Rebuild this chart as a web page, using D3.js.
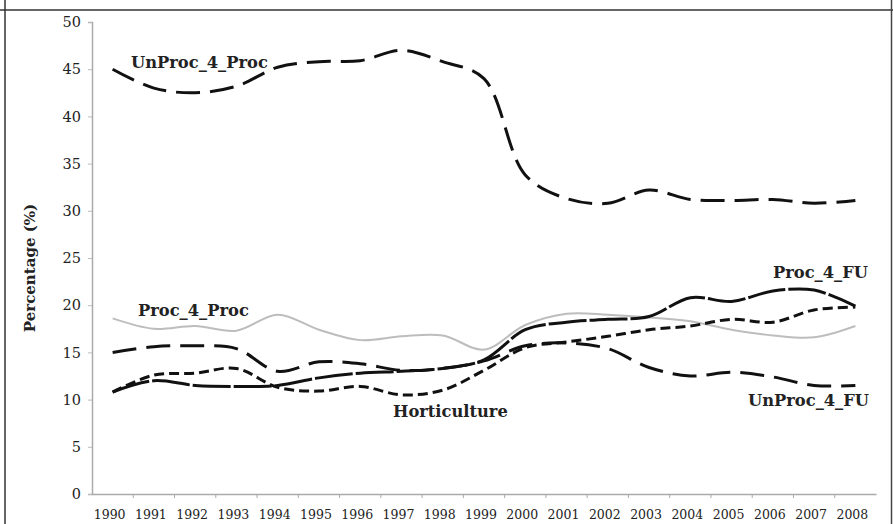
<!DOCTYPE html>
<html>
<head>
<meta charset="utf-8">
<script src="https://cdn.jsdelivr.net/npm/d3@7"></script>
<style>
  body { margin: 0; background: #fff; }
  svg { display: block; }
  .tick text { font-family: "DejaVu Serif", serif; fill: #222; }
  .lbl { font-family: "DejaVu Serif", serif; font-weight: bold; font-size: 16.3px; fill: #222; }
</style>
</head>
<body>
<svg id="chart" width="893" height="524"></svg>
<script>
// values (percent)
const years = ["1990","1991","1992","1993","1994","1995","1996","1997","1998","1999",
               "2000","2001","2002","2003","2004","2005","2006","2007","2008"]
const unproc4proc = [45.0,43.0,42.5,43.2,45.2,45.8,45.9,47.0,45.8,44.0,33.8,31.3,30.8,32.2,31.2,31.1,31.2,30.8,31.1]
const proc4fu     = [10.8,12.0,11.5,11.4,11.5,12.3,12.8,13.0,13.3,14.2,17.4,18.2,18.5,18.8,20.8,20.4,21.5,21.6,19.9]
const horticulture= [10.8,12.6,12.8,13.3,11.3,10.9,11.4,10.5,11.0,13.1,15.5,16.1,16.7,17.4,17.8,18.5,18.2,19.5,19.8]
const proc4proc   = [18.6,17.5,17.8,17.3,19.0,17.4,16.3,16.7,16.8,15.3,17.9,19.1,19.0,18.7,18.3,17.4,16.8,16.6,17.8]
const unproc4fu   = [15.0,15.6,15.7,15.4,13.0,14.0,13.8,13.1,13.3,14.1,15.7,16.0,15.4,13.4,12.5,12.9,12.4,11.5,11.5]
const yTicks = [0,5,10,15,20,25,30,35,40,45,50]

let svg = d3.select("#chart")

// frame
svg.append("line").attr("x1",0).attr("x2",893).attr("y1",10).attr("y2",10)
  .attr("stroke","#666").attr("stroke-width",2.2)
svg.append("line").attr("x1",5).attr("x2",5).attr("y1",0).attr("y2",524)
  .attr("stroke","#333").attr("stroke-width",1.5)
svg.append("line").attr("x1",891.5).attr("x2",891.5).attr("y1",0).attr("y2",524)
  .attr("stroke","#444").attr("stroke-width",1.5)

let xScale = d3.scaleBand().domain(years).range([92,876]).padding(0)
let yScale = d3.scaleLinear().domain([0,50]).range([494,22])
let xc = d => xScale(d) + xScale.bandwidth()/2

// y axis
let yAxis = svg.append("g").attr("transform","translate(92,0)")
  .call(d3.axisLeft(yScale).tickValues(yTicks).tickSize(4).tickPadding(7))
yAxis.select(".domain").attr("stroke","#aaa").attr("stroke-width",1.5)
yAxis.selectAll(".tick line").attr("stroke","#bbb")
yAxis.selectAll(".tick text").attr("font-size",14.5)

// x axis: labels at centres, tick marks between categories
let xAxis = svg.append("g").attr("transform","translate(0,494)")
  .call(d3.axisBottom(xScale).tickSize(0).tickPadding(16))
xAxis.select(".domain").attr("stroke","#aaa").attr("stroke-width",1.5)
xAxis.selectAll(".tick text").attr("font-size",12.5).attr("dx",-3)
xAxis.selectAll(".sep").data(years.slice(1)).enter().append("line")
  .attr("class","sep")
  .attr("x1",d=>xScale(d)).attr("x2",d=>xScale(d))
  .attr("y1",0).attr("y2",4).attr("stroke","#aaa")

// y title
svg.append("text").attr("class","lbl")
  .attr("transform","translate(35,268) rotate(-90)")
  .attr("text-anchor","middle").style("font-size","15px")
  .text("Percentage (%)")

let line = d3.line().x((d,i)=>xc(years[i])).y(d=>yScale(d)).curve(d3.curveCatmullRom.alpha(0.5))

let series = [
  {v: proc4proc,    stroke:"#bdbdbd", w:2,   dash:null},
  {v: horticulture, stroke:"#111",    w:3,   dash:"10,5"},
  {v: unproc4fu,    stroke:"#111",    w:3,   dash:"24,10"},
  {v: proc4fu,      stroke:"#111",    w:3,   dash:"38,3"},
  {v: unproc4proc,  stroke:"#111",    w:3,   dash:"24,10"}
]
svg.selectAll(".series").data(series).enter().append("path")
  .attr("class","series")
  .attr("d",d=>line(d.v))
  .attr("fill","none")
  .attr("stroke",d=>d.stroke)
  .attr("stroke-width",d=>d.w)
  .attr("stroke-dasharray",d=>d.dash)

// series labels
let labels = [
  {t:"UnProc_4_Proc", x:131, y:68},
  {t:"Proc_4_Proc",   x:138, y:316},
  {t:"Horticulture",  x:393, y:417},
  {t:"Proc_4_FU",     x:773, y:278},
  {t:"UnProc_4_FU",   x:748, y:406}
]
svg.selectAll(".slbl").data(labels).enter().append("text")
  .attr("class","lbl slbl")
  .attr("x",d=>d.x).attr("y",d=>d.y)
  .text(d=>d.t)
</script>
</body>
</html>
